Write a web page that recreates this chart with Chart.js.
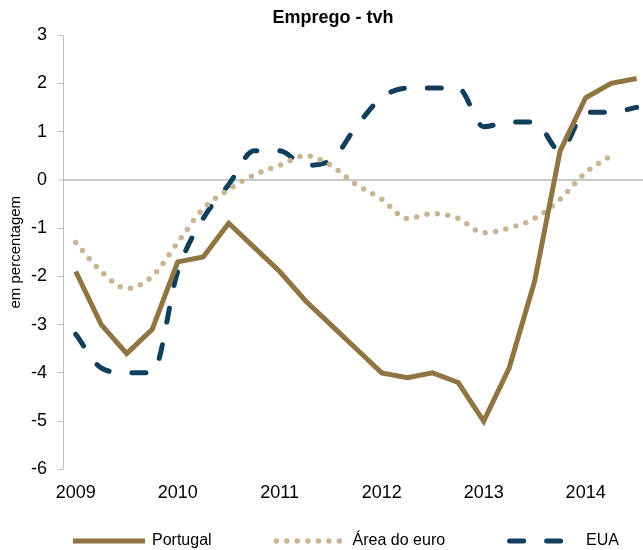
<!DOCTYPE html>
<html lang="pt">
<head>
<meta charset="UTF-8">
<title>Emprego - tvh</title>
<script src="https://cdn.jsdelivr.net/npm/chart.js"></script>
<style>
  html, body { margin: 0; padding: 0; background: #fff; overflow: hidden; }
  #wrap { width: 643px; height: 550px; }
</style>
</head>
<body>
<div id="wrap"><canvas id="emprego"></canvas></div>
<script>
// dados trimestrais, 2009T1 .. 2014T3 (tvh, em percentagem)
const years = ['2009', '2010', '2011', '2012', '2013', '2014'];
const seriesNames = ['Portugal', 'Área do euro', 'EUA'];
const portugal = [-1.9, -3.0, -3.6, -3.1, -1.7, -1.6, -0.9, -1.4, -1.9, -2.5, -3.0, -3.5,
                  -4.0, -4.1, -4.0, -4.2, -5.0, -3.9, -2.1, 0.6, 1.7, 2.0, 2.1];
const euroArea = [-1.3, -1.9, -2.25, -2.0, -1.3, -0.6, -0.2, 0.1, 0.3, 0.5, 0.3, -0.1,
                  -0.4, -0.8, -0.7, -0.8, -1.1, -1.0, -0.8, -0.4, 0.15, 0.5];
const eua = [-3.2, -3.9, -4.0, -4.0, -1.9, -0.8, -0.1, 0.6, 0.6, 0.3, 0.4, 1.1,
             1.7, 1.9, 1.9, 1.9, 1.1, 1.2, 1.2, 0.6, 1.4, 1.4, 1.5];

const toPoints = arr => arr.map((v, i) => ({ x: i, y: v }));

Chart.defaults.font.family = "'Liberation Sans', Arial, sans-serif";
Chart.defaults.color = '#000';

// titulo e legenda desenhados a mao, para ficarem como no original
const decor = {
  id: 'decor',
  afterDraw(chart) {
    const ctx = chart.ctx;
    const area = chart.chartArea;
    ctx.save();
    ctx.fillStyle = '#000';
    ctx.font = "bold 18px 'Liberation Sans', Arial, sans-serif";
    ctx.textAlign = 'center';
    ctx.textBaseline = 'middle';
    ctx.fillText('Emprego - tvh', 333, 18);

    // legenda em baixo
    ctx.font = "16px 'Liberation Sans', Arial, sans-serif";
    const sample = 72, gapText = 7, gapItem = 62, y = 541;
    const widths = chart.data.datasets.map(ds => sample + gapText + ctx.measureText(ds.label).width);
    const total = widths.reduce((a, b) => a + b, 0) + gapItem * (widths.length - 1);
    let x = (area.left + area.right) / 2 - total / 2 - 7;
    chart.data.datasets.forEach((ds, i) => {
      const cap = ds.borderCapStyle || 'butt';
      const inset = cap === 'round' ? ds.borderWidth / 2 : 0;
      ctx.beginPath();
      ctx.strokeStyle = ds.borderColor;
      ctx.lineWidth = ds.borderWidth;
      ctx.lineCap = cap;
      ctx.setLineDash(ds.borderDash || []);
      ctx.moveTo(x + inset, y);
      ctx.lineTo(x + sample - inset, y);
      ctx.stroke();
      ctx.setLineDash([]);
      ctx.textAlign = 'left';
      ctx.fillStyle = '#000';
      ctx.fillText(ds.label, x + sample + gapText, y);
      x += widths[i] + gapItem;
    });
    ctx.restore();
  }
};

new Chart(document.getElementById('emprego'), {
  type: 'line',
  data: {
    datasets: [
      {
        label: seriesNames[0],
        data: toPoints(portugal),
        borderColor: '#8F7542',
        borderWidth: 5,
        borderCapStyle: 'butt',
        tension: 0,
        pointRadius: 0
      },
      {
        label: seriesNames[1],
        data: toPoints(euroArea),
        borderColor: '#C9B594',
        borderWidth: 5.5,
        borderDash: [0, 10.5],
        borderCapStyle: 'round',
        cubicInterpolationMode: 'monotone',
        pointRadius: 0
      },
      {
        label: seriesNames[2],
        data: toPoints(eua),
        borderColor: '#0F3F5C',
        borderWidth: 5,
        borderDash: [14, 23],
        borderCapStyle: 'round',
        cubicInterpolationMode: 'monotone',
        pointRadius: 0
      }
    ]
  },
  options: {
    responsive: true,
    maintainAspectRatio: false,
    animation: false,
    layout: { padding: { top: 35, right: 0, bottom: 33, left: 0 } },
    plugins: {
      legend: { display: false },
      title: { display: false },
      tooltip: { enabled: false }
    },
    scales: {
      x: {
        type: 'linear',
        min: -0.5,
        max: 22.25,
        afterBuildTicks: s => { s.ticks = years.map((y, i) => ({ value: i * 4 })); },
        ticks: {
          callback: v => years[v / 4],
          font: { size: 18 },
          padding: 13,
          maxRotation: 0
        },
        grid: { display: false, drawTicks: false },
        border: { display: false }
      },
      y: {
        min: -6,
        max: 3,
        afterFit: s => { s.width = 63; },
        ticks: { stepSize: 1, font: { size: 18 }, padding: 11 },
        title: {
          display: true,
          text: 'em percentagem',
          font: { size: 15 },
          padding: { top: 7, bottom: 0 }
        },
        grid: {
          color: c => c.tick && c.tick.value === 0 ? '#C8C8C8' : 'rgba(0,0,0,0)',
          lineWidth: c => c.tick && c.tick.value === 0 ? 2 : 1,
          tickColor: '#BFBFBF',
          tickWidth: 1,
          tickLength: 5
        },
        border: { color: '#BFBFBF', width: 1 }
      }
    }
  },
  plugins: [decor]
});
</script>
</body>
</html>
